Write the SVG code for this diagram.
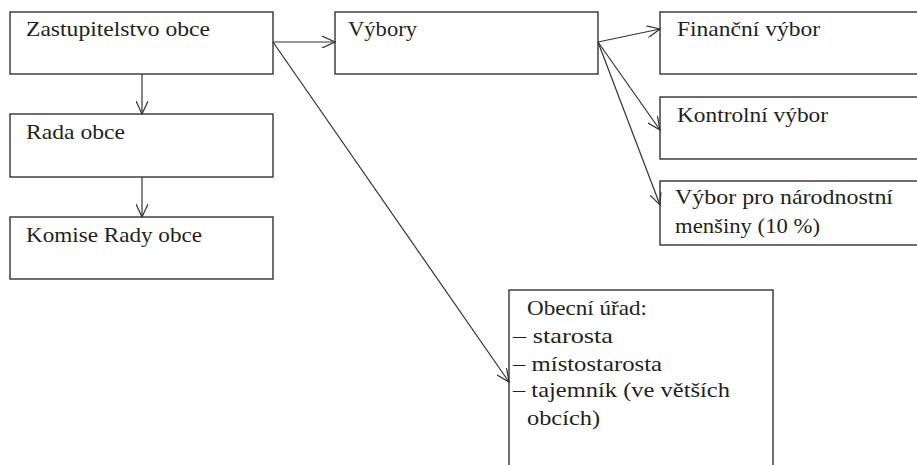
<svg xmlns="http://www.w3.org/2000/svg" width="917" height="465" viewBox="0 0 917 465">
<style>
rect{fill:#fff;stroke:#333;stroke-width:1.4}
text{font-family:"Liberation Serif","Times New Roman",serif;font-size:21px;fill:#231f20}
.c line{stroke:#333;stroke-width:1.2;marker-end:url(#a)}
</style>
<defs>
<marker id="a" markerUnits="userSpaceOnUse" markerWidth="14" markerHeight="12" refX="13" refY="6" orient="auto" viewBox="0 0 14 12">
<path d="M0,0 L13,6 L0,12" fill="none" stroke="#333" stroke-width="1.2"/>
</marker>
</defs>
<rect x="0" y="0" width="917" height="465" style="stroke:none"/>
<g id="zastupitelstvo"><rect x="10" y="12" width="263" height="62"/><text x="26" y="36" textLength="184" lengthAdjust="spacingAndGlyphs">Zastupitelstvo obce</text></g>
<g id="rada"><rect x="10" y="114" width="263" height="63"/><text x="26" y="139" textLength="99" lengthAdjust="spacingAndGlyphs">Rada obce</text></g>
<g id="komise"><rect x="10" y="217" width="263" height="62"/><text x="26" y="242" textLength="176" lengthAdjust="spacingAndGlyphs">Komise Rady obce</text></g>
<g id="vybory"><rect x="335" y="12" width="263" height="62"/><text x="348" y="36" textLength="69" lengthAdjust="spacingAndGlyphs">Výbory</text></g>
<g id="financni"><rect x="660" y="12" width="270" height="62"/><text x="677" y="36" textLength="143" lengthAdjust="spacingAndGlyphs">Finanční výbor</text></g>
<g id="kontrolni"><rect x="660" y="97" width="270" height="62"/><text x="677" y="122" textLength="151" lengthAdjust="spacingAndGlyphs">Kontrolní výbor</text></g>
<g id="mensiny"><rect x="660" y="181" width="270" height="64"/><text x="675" y="204" textLength="218" lengthAdjust="spacingAndGlyphs">Výbor pro národnostní</text><text x="675" y="233" textLength="145" lengthAdjust="spacingAndGlyphs">menšiny (10 %)</text></g>
<g id="obecni-urad"><rect x="509" y="290" width="264" height="200"/>
<text x="527" y="315" textLength="120" lengthAdjust="spacingAndGlyphs">Obecní úřad:</text>
<text x="513" y="343" textLength="100" lengthAdjust="spacingAndGlyphs">– starosta</text>
<text x="513" y="371" textLength="149" lengthAdjust="spacingAndGlyphs">– místostarosta</text>
<text x="513" y="397" textLength="217" lengthAdjust="spacingAndGlyphs">– tajemník (ve větších</text>
<text x="527" y="425" textLength="73" lengthAdjust="spacingAndGlyphs">obcích)</text></g>
<g class="c" id="connectors">
<line x1="273" y1="42" x2="335" y2="42"/>
<line x1="142" y1="74" x2="142" y2="114"/>
<line x1="142" y1="177" x2="142" y2="217"/>
<line x1="273" y1="42" x2="509" y2="382"/>
<line x1="598" y1="42" x2="660" y2="29"/>
<line x1="598" y1="42" x2="660" y2="130"/>
<line x1="598" y1="42" x2="660" y2="205"/>
</g>
</svg>
